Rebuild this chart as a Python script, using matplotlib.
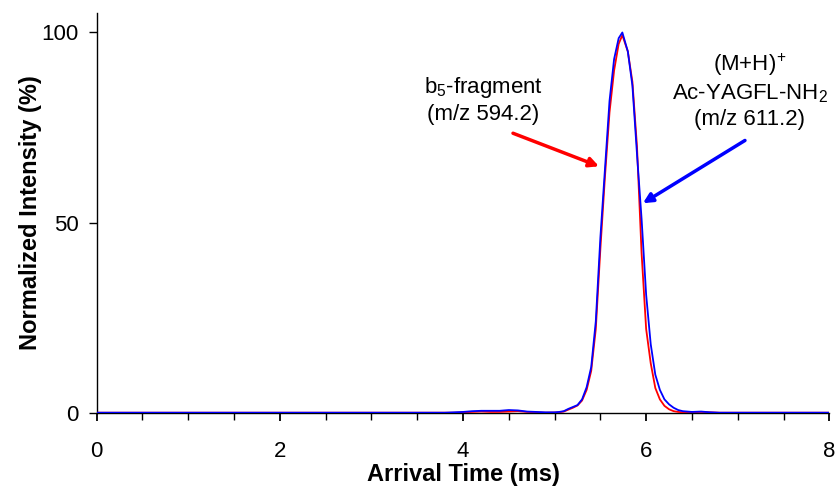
import matplotlib
matplotlib.use("Agg")
import matplotlib.pyplot as plt
from matplotlib.ticker import MultipleLocator

plt.rcParams['font.family'] = ['Liberation Sans', 'DejaVu Sans']
plt.rcParams['mathtext.fontset'] = 'custom'
plt.rcParams['mathtext.rm'] = 'Liberation Sans'
plt.rcParams['mathtext.it'] = 'Liberation Sans'
plt.rcParams['mathtext.bf'] = 'Liberation Sans:bold'

# Arrival time (ms)
arrival_time = [0.0, 3.8, 3.9, 4.0, 4.1, 4.2, 4.3, 4.4, 4.5, 4.6, 4.7, 4.8, 4.9,
                5.0, 5.05, 5.1, 5.15, 5.2, 5.25, 5.3, 5.35, 5.4, 5.45, 5.5, 5.55,
                5.6, 5.65, 5.7, 5.74, 5.8, 5.85, 5.9, 5.95, 6.0, 6.05, 6.1, 6.15,
                6.2, 6.25, 6.3, 6.35, 6.4, 6.5, 6.6, 6.7, 6.8, 8.0]

# b5-fragment (m/z 594.2), normalized intensity (%)
fragment_b5 = [0.0, 0.0, 0.0, 0.1, 0.2, 0.3, 0.2, 0.2, 0.3, 0.4, 0.2, 0.1, 0.0,
               0.05, 0.1, 0.3, 0.8, 1.3, 1.9, 3.2, 6.0, 11.0, 22.0, 43.0, 62.0,
               79.0, 90.0, 97.0, 99.3, 95.0, 87.0, 70.0, 42.0, 22.0, 13.0, 6.5, 3.5,
               1.8, 0.9, 0.4, 0.2, 0.1, 0.1, 0.2, 0.1, 0.0, 0.0]

# (M+H)+ Ac-YAGFL-NH2 (m/z 611.2), normalized intensity (%)
parent_ion = [0.0, 0.0, 0.1, 0.2, 0.4, 0.5, 0.5, 0.5, 0.7, 0.6, 0.3, 0.2, 0.1,
              0.1, 0.2, 0.4, 1.0, 1.5, 2.0, 3.5, 6.7, 12.0, 24.0, 46.0, 64.0,
              82.0, 93.0, 98.5, 100.0, 95.0, 86.0, 68.0, 51.0, 31.0, 18.0, 10.0, 6.0,
              3.5, 2.2, 1.3, 0.7, 0.4, 0.2, 0.3, 0.1, 0.0, 0.0]

x_ticks = [0, 2, 4, 6, 8]
y_ticks = [0, 50, 100]

fig = plt.figure(figsize=(8.36, 4.87), dpi=100)
ax = fig.add_axes([96.7 / 836, 1 - 412.7 / 487, (829.3 - 96.7) / 836, 400 / 487])

ax.plot(arrival_time, fragment_b5, color='#FF0000', lw=1.3, zorder=3)
ax.plot(arrival_time, parent_ion, color='#0000FF', lw=1.3, zorder=4)

ax.set_xlim(0, 8)
ax.set_ylim(0, 105.2)
ax.set_xticks(x_ticks)
ax.set_yticks(y_ticks)
ax.xaxis.set_minor_locator(MultipleLocator(0.5))

for s in ['top', 'right']:
    ax.spines[s].set_visible(False)
for s in ['left', 'bottom']:
    ax.spines[s].set_linewidth(1.0)
    ax.spines[s].set_color('black')

ax.tick_params(axis='x', which='major', direction='out', length=5.5, width=1.3,
               labelsize=16, pad=15)
ax.tick_params(axis='x', which='minor', direction='out', length=5, width=1.0)
ax.tick_params(axis='y', which='major', direction='out', length=5.8, width=1.0,
               labelsize=16, pad=7)

ax.set_xlabel('Arrival Time (ms)', fontsize=17, fontweight='bold')
ax.set_ylabel('Normalized Intensity (%)', fontsize=17, fontweight='bold')
ax.xaxis.label.set_va('baseline')
ax.xaxis.set_label_coords(0.5, -0.170)
ax.yaxis.set_label_coords(-0.075, 0.5)

ax.text(4.219, 82.2, 'b$_5$-fragment\n(m/z 594.2)', ha='center', va='center',
        fontsize=16, linespacing=1.25)
ax.text(7.133, 84.6, '(M+H)$^{\\!+}$\nAc-YAGFL-NH$_2$\n(m/z 611.2)', ha='center',
        va='center', fontsize=16, linespacing=1.25)

ax.annotate('', xy=(5.485, 64.8), xytext=(4.546, 73.5),
            arrowprops=dict(arrowstyle='-|>', color='#FF0000', lw=2.5,
                            mutation_scale=14, shrinkA=0, shrinkB=0))
ax.annotate('', xy=(5.965, 55.1), xytext=(7.079, 71.6),
            arrowprops=dict(arrowstyle='-|>', color='#0000FF', lw=2.5,
                            mutation_scale=14, shrinkA=0, shrinkB=0))

fig.savefig('out.png', dpi=100)
